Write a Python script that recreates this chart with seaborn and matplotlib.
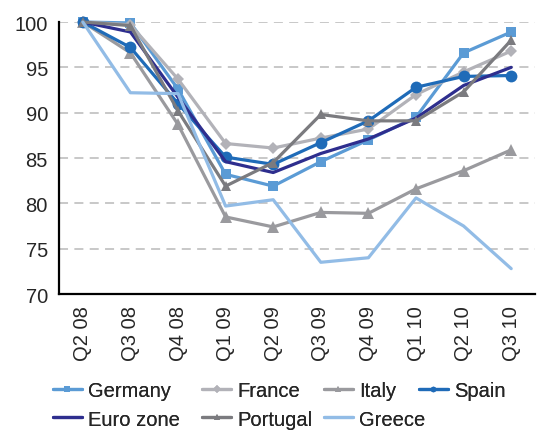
import matplotlib
matplotlib.use("Agg")
import matplotlib.pyplot as plt
from matplotlib.lines import Line2D
import seaborn as sns
import pandas as pd

quarters = ["Q2 08", "Q3 08", "Q4 08", "Q1 09", "Q2 09", "Q3 09",
            "Q4 09", "Q1 10", "Q2 10", "Q3 10"]

germany = [100.0, 99.9, 92.6, 83.2, 81.9, 84.6, 87.0, 89.5, 96.6, 98.9]
france = [100.0, 99.7, 93.7, 86.6, 86.1, 87.2, 88.2, 92.0, 94.5, 96.8]
italy = [100.0, 96.6, 88.7, 78.5, 77.4, 79.0, 78.9, 81.6, 83.6, 85.9]
spain = [100.0, 97.2, 91.0, 85.1, 84.3, 86.7, 89.1, 92.8, 94.0, 94.1]
euro_zone = [100.0, 98.9, 91.7, 84.6, 83.4, 85.5, 87.1, 89.4, 93.0, 95.0]
portugal = [100.0, 99.6, 90.2, 81.9, 84.5, 89.8, 89.1, 89.1, 92.3, 98.0]
greece = [100.0, 92.2, 92.1, 79.7, 80.4, 73.5, 74.0, 80.6, 77.5, 72.8]

series = [
    ("Germany", germany, "#5B9BD5", "s", 7.5),
    ("France", france, "#B2B2B8", "D", 6.5),
    ("Italy", italy, "#9A9A9E", "^", 8.5),
    ("Spain", spain, "#1F6BB8", "o", 8.5),
    ("Euro zone", euro_zone, "#2E2E8E", None, 0),
    ("Portugal", portugal, "#7B7B7F", "^", 6.5),
    ("Greece", greece, "#92BCE6", None, 0),
]

FS = 14.5

sns.set_style("white")
plt.rcParams["font.family"] = ["Liberation Sans", "DejaVu Sans"]

fig = plt.figure(figsize=(5.49, 4.31), dpi=100)
ax = fig.add_axes([0.1075, 0.3155, 0.8670, 0.6311])

for i, (name, vals, color, marker, ms) in enumerate(series):
    df = pd.DataFrame({"quarter": quarters, "value": vals})
    kw = dict(marker=marker, markersize=ms, markeredgewidth=0) if marker else {}
    sns.lineplot(data=df, x="quarter", y="value", ax=ax, color=color,
                 linewidth=2.3, sort=False, clip_on=False, zorder=3 + i,
                 legend=False, **kw)

ax.set_xlim(-0.5, len(quarters) - 0.5)
ax.set_ylim(70, 100)
ax.set_yticks([70, 75, 80, 85, 90, 95, 100])
ax.set_xlabel("")
ax.set_ylabel("")

# category labels at centres, tick marks at category boundaries
ax.set_xticks(range(len(quarters)))
ax.set_xticklabels(quarters, rotation=90, fontsize=FS)
ax.set_xticks([k - 0.5 for k in range(len(quarters) + 1)], minor=True)
ax.tick_params(axis="x", which="major", length=0, pad=8)
ax.tick_params(axis="x", which="minor", length=5, width=1.3, direction="out",
               color="black")
ax.tick_params(axis="y", which="major", length=5, width=1.3, direction="out",
               color="black", labelsize=FS, pad=3)

ax.grid(False)
for yv in [75, 80, 85, 90, 95, 100]:
    ax.axhline(yv, color="#C4C4C4", linewidth=1.3, linestyle=(0, (5, 3.5)),
               zorder=1)

for side in ["top", "right"]:
    ax.spines[side].set_visible(False)
for side in ["left", "bottom"]:
    ax.spines[side].set_color("black")
    ax.spines[side].set_linewidth(1.6)
ax.spines["left"].set_zorder(2)

# legend entries laid out in two rows
legend_pos = {
    "Germany": (0.0965, 0.0905),
    "France": (0.368, 0.0905),
    "Italy": (0.590, 0.0905),
    "Spain": (0.763, 0.0905),
    "Euro zone": (0.0965, 0.0255),
    "Portugal": (0.368, 0.0255),
    "Greece": (0.590, 0.0255),
}
for name, vals, color, marker, ms in series:
    handle = Line2D([], [], color=color, linewidth=2.3,
                    marker=marker if marker else None,
                    markersize=4 if marker else 0, markeredgewidth=0)
    leg = fig.legend([handle], [name], loc="center left",
                     bbox_to_anchor=legend_pos[name], frameon=False,
                     fontsize=FS, handlelength=1.44, handletextpad=0.3,
                     borderpad=0, borderaxespad=0)
    fig.add_artist(leg)

fig.savefig("out.png", dpi=100)
